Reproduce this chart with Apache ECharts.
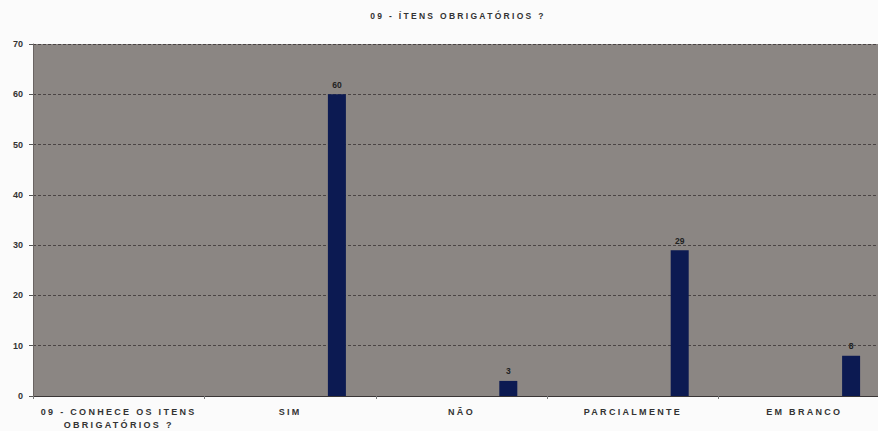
<!DOCTYPE html>
<html>
<head>
<meta charset="utf-8">
<script src="https://cdn.jsdelivr.net/npm/echarts@6/dist/echarts.min.js"></script>
<style>
  html, body { margin: 0; padding: 0; background: #fbfbfb; overflow: hidden; }
  #chart { width: 900px; height: 431px; }
</style>
</head>
<body>
<div id="chart"></div>
<script>
// dados
const titleText = '09 - ÍTENS OBRIGATÓRIOS ?'
const categories = ['09 - CONHECE OS ITENS\nOBRIGATÓRIOS ?', 'SIM', 'NÃO', 'PARCIALMENTE', 'EM BRANCO']
const values = [null, 60, 3, 29, 8]
// série vazia só para deslocar as barras para a direita de cada categoria
const emptyValues = [null, null, null, null, null]
const yTicks = { min: 0, max: 70, interval: 10 }

const chart = echarts.init(document.getElementById('chart'), null, { renderer: 'svg' })

const font = 'Liberation Sans, Arial, sans-serif'

const option = {
  animation: false,
  backgroundColor: '#fbfbfb',
  title: {
    text: titleText,
    left: 453,
    top: 6,
    textAlign: 'center',
    textStyle: { fontFamily: font, fontSize: 8.5, fontWeight: 'bold', color: '#333' }
  },
  grid: {
    left: 33,
    top: 44,
    width: 857,
    height: 354,
    show: true,
    backgroundColor: '#8b8683',
    borderWidth: 0
  },
  xAxis: {
    type: 'category',
    data: categories,
    axisLine: { show: true, lineStyle: { color: '#3a3636', width: 1 } },
    axisTick: { show: true, length: 3, lineStyle: { color: '#777' } },
    axisLabel: {
      interval: 0,
      margin: 9,
      lineHeight: 13,
      fontFamily: font,
      fontSize: 9,
      fontWeight: 'bold',
      color: '#333'
    }
  },
  yAxis: {
    type: 'value',
    min: yTicks.min,
    max: yTicks.max,
    interval: yTicks.interval,
    axisLine: { show: true, lineStyle: { color: '#6a6462', width: 1 } },
    axisTick: { show: true, length: 4, lineStyle: { color: '#555' } },
    axisLabel: { margin: 10, fontFamily: font, fontSize: 9, fontWeight: 'bold', color: '#333' },
    splitLine: { show: true, lineStyle: { color: '#4a4444', width: 1, type: [3, 2] } }
  },
  series: [
    {
      name: 'vazio',
      type: 'bar',
      data: emptyValues,
      barWidth: 18,
      barGap: '420%',
      silent: true
    },
    {
      name: '09 - ÍTENS OBRIGATÓRIOS ?',
      type: 'bar',
      data: values,
      barWidth: 18,
      barGap: '420%',
      itemStyle: { color: '#0c1a52' },
      label: {
        show: true,
        position: 'top',
        distance: 5,
        fontFamily: font,
        fontSize: 8.5,
        fontWeight: 'bold',
        color: '#222'
      }
    }
  ]
}

chart.setOption(option)

// espaçamento entre letras só nos textos (título e categorias), não nos números
document.querySelectorAll('#chart text').forEach(t => {
  if (!/^[\d\s]+$/.test(t.textContent)) {
    t.style.letterSpacing = '2.3px'
  }
})
</script>
</body>
</html>
